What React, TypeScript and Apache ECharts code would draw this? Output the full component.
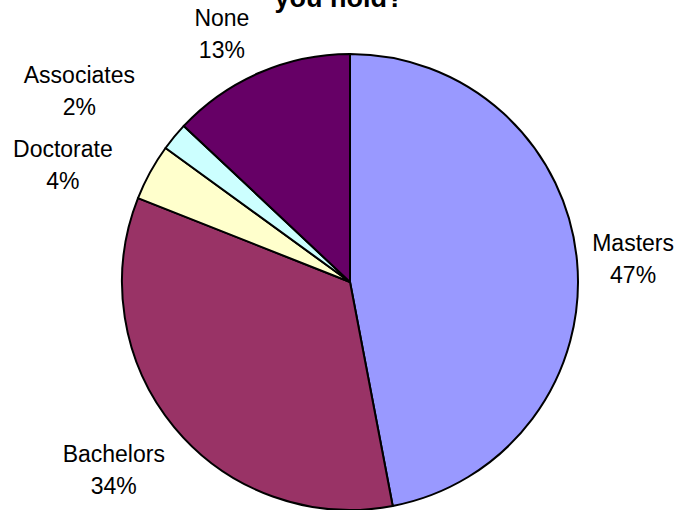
import React, { useEffect, useRef } from "react";
import * as echarts from "echarts";

const categories = ["Masters", "Bachelors", "Doctorate", "Associates", "None"];
const values = [47, 34, 4, 2, 13];
const colors = ["#9999FF", "#993366", "#FFFFCC", "#CCFFFF", "#660066"];
const titleText = "you hold?";

// layout (not data)
const CENTER = [350, 282];
const RADIUS = 228;
const labelDist = [284, 302, 310, 331, 279];
const labelShiftDeg = [0.75, 1.06, -6.65, -4.44, -3.94];

export default function App() {
  const ref = useRef<HTMLDivElement>(null);
  useEffect(() => {
    if (!ref.current) return;
    const chart = echarts.init(ref.current, null, { renderer: "svg" });
    const total = values.reduce((a, b) => a + b, 0);
    const cum: number[] = [];
    let acc = 0;
    values.forEach((v) => {
      cum.push(acc + v / 2);
      acc += v;
    });
    const font = "'Liberation Sans', Arial, sans-serif";
    chart.setOption({
      animation: false,
      backgroundColor: "#ffffff",
      graphic: [
        {
          type: "text",
          x: 339,
          y: -2,
          style: {
            text: titleText,
            x: 0,
            y: 0,
            fill: "#000",
            font: `bold 27px ${font}`,
            align: "center",
            verticalAlign: "middle",
          },
        },
      ],
      series: [
        {
          type: "pie",
          center: CENTER,
          radius: RADIUS,
          startAngle: 90,
          clockwise: true,
          data: categories.map((c, i) => ({
            name: c,
            value: values[i],
            itemStyle: { color: colors[i] },
          })),
          itemStyle: { borderColor: "#000", borderWidth: 2 },
          label: {
            show: true,
            position: "outside",
            formatter: (p: any) => `${p.name}\n${Math.round(p.percent)}%`,
            fontFamily: font,
            fontSize: 23,
            lineHeight: 32,
            color: "#000",
            align: "center",
            width: 160,
            overflow: "none",
          },
          labelLine: { show: false },
          labelLayout: (p: any) => {
            const i = p.dataIndex;
            const deg = (cum[i] / total) * 360 + labelShiftDeg[i];
            const rad = (deg * Math.PI) / 180;
            return {
              x: CENTER[0] + labelDist[i] * Math.sin(rad),
              y: CENTER[1] - labelDist[i] * Math.cos(rad),
              align: "center",
              verticalAlign: "middle",
            };
          },
          emphasis: { disabled: true },
        },
      ],
    });
    return () => chart.dispose();
  }, []);
  return (
    <div
      ref={ref}
      style={{ position: "absolute", left: 0, top: 0, width: 691, height: 510 }}
    />
  );
}
